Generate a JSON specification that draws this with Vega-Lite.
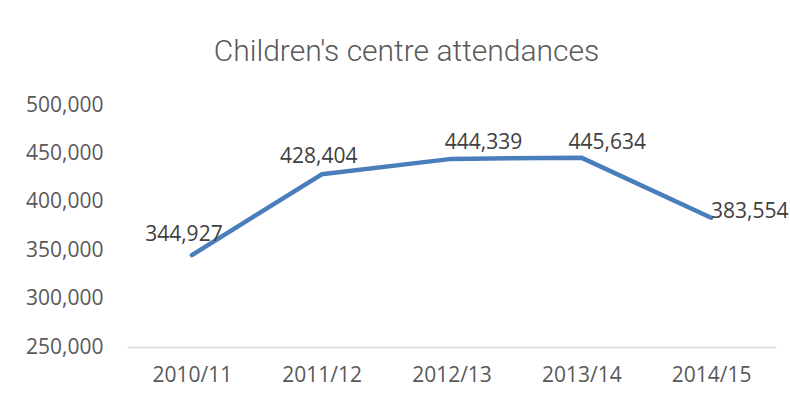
{
  "$schema": "https://vega.github.io/schema/vega-lite/v6.json",
  "width": 649,
  "height": 242,
  "autosize": {"type": "none"},
  "padding": {"left": 127, "top": 105, "right": 14, "bottom": 53},
  "background": "white",
  "title": {
    "text": "Children's centre attendances",
    "font": "Roboto",
    "fontSize": 30,
    "fontWeight": 300,
    "color": "#595959",
    "anchor": "middle",
    "dx": -45,
    "offset": 27
  },
  "data": {
    "values": [
      {"year": "2010/11", "attendances": 344927},
      {"year": "2011/12", "attendances": 428404},
      {"year": "2012/13", "attendances": 444339},
      {"year": "2013/14", "attendances": 445634},
      {"year": "2014/15", "attendances": 383554}
    ]
  },
  "encoding": {
    "x": {
      "field": "year",
      "type": "ordinal",
      "sort": null,
      "axis": {
        "title": null,
        "labelAngle": 0,
        "domain": true,
        "domainColor": "#d9d9d9",
        "domainWidth": 1.5,
        "ticks": false,
        "tickSize": 0,
        "labelPadding": 17,
        "labelFont": "Open Sans",
        "labelFontSize": 21,
        "labelColor": "#595959",
        "grid": false
      }
    },
    "y": {
      "field": "attendances",
      "type": "quantitative",
      "scale": {"domain": [250000, 500000], "nice": false, "zero": false},
      "axis": {
        "title": null,
        "values": [250000, 300000, 350000, 400000, 450000, 500000],
        "format": ",.0f",
        "domain": false,
        "ticks": false,
        "tickSize": 0,
        "grid": false,
        "labelPadding": 24,
        "labelFont": "Open Sans",
        "labelFontSize": 21,
        "labelColor": "#595959"
      }
    }
  },
  "layer": [
    {
      "mark": {"type": "line", "color": "#4a7ebb", "strokeWidth": 4.5, "strokeCap": "round", "strokeJoin": "round", "clip": false}
    },
    {
      "transform": [{"filter": "datum.year == '2010/11'"}],
      "mark": {"type": "text", "font": "Open Sans", "fontSize": 21, "color": "#404040", "align": "center", "baseline": "middle", "dx": -8, "dy": -20},
      "encoding": {"text": {"field": "attendances", "type": "quantitative", "format": ",.0f"}}
    },
    {
      "transform": [{"filter": "datum.year == '2011/12'"}],
      "mark": {"type": "text", "font": "Open Sans", "fontSize": 21, "color": "#404040", "align": "center", "baseline": "middle", "dx": -3, "dy": -17},
      "encoding": {"text": {"field": "attendances", "type": "quantitative", "format": ",.0f"}}
    },
    {
      "transform": [{"filter": "datum.year == '2012/13'"}],
      "mark": {"type": "text", "font": "Open Sans", "fontSize": 21, "color": "#404040", "align": "center", "baseline": "middle", "dx": 32, "dy": -16},
      "encoding": {"text": {"field": "attendances", "type": "quantitative", "format": ",.0f"}}
    },
    {
      "transform": [{"filter": "datum.year == '2013/14'"}],
      "mark": {"type": "text", "font": "Open Sans", "fontSize": 21, "color": "#404040", "align": "center", "baseline": "middle", "dx": 26, "dy": -15},
      "encoding": {"text": {"field": "attendances", "type": "quantitative", "format": ",.0f"}}
    },
    {
      "transform": [{"filter": "datum.year == '2014/15'"}],
      "mark": {"type": "text", "font": "Open Sans", "fontSize": 21, "color": "#404040", "align": "left", "baseline": "middle", "dx": 0, "dy": -6},
      "encoding": {"text": {"field": "attendances", "type": "quantitative", "format": ",.0f"}}
    }
  ],
  "config": {"view": {"stroke": null}}
}
